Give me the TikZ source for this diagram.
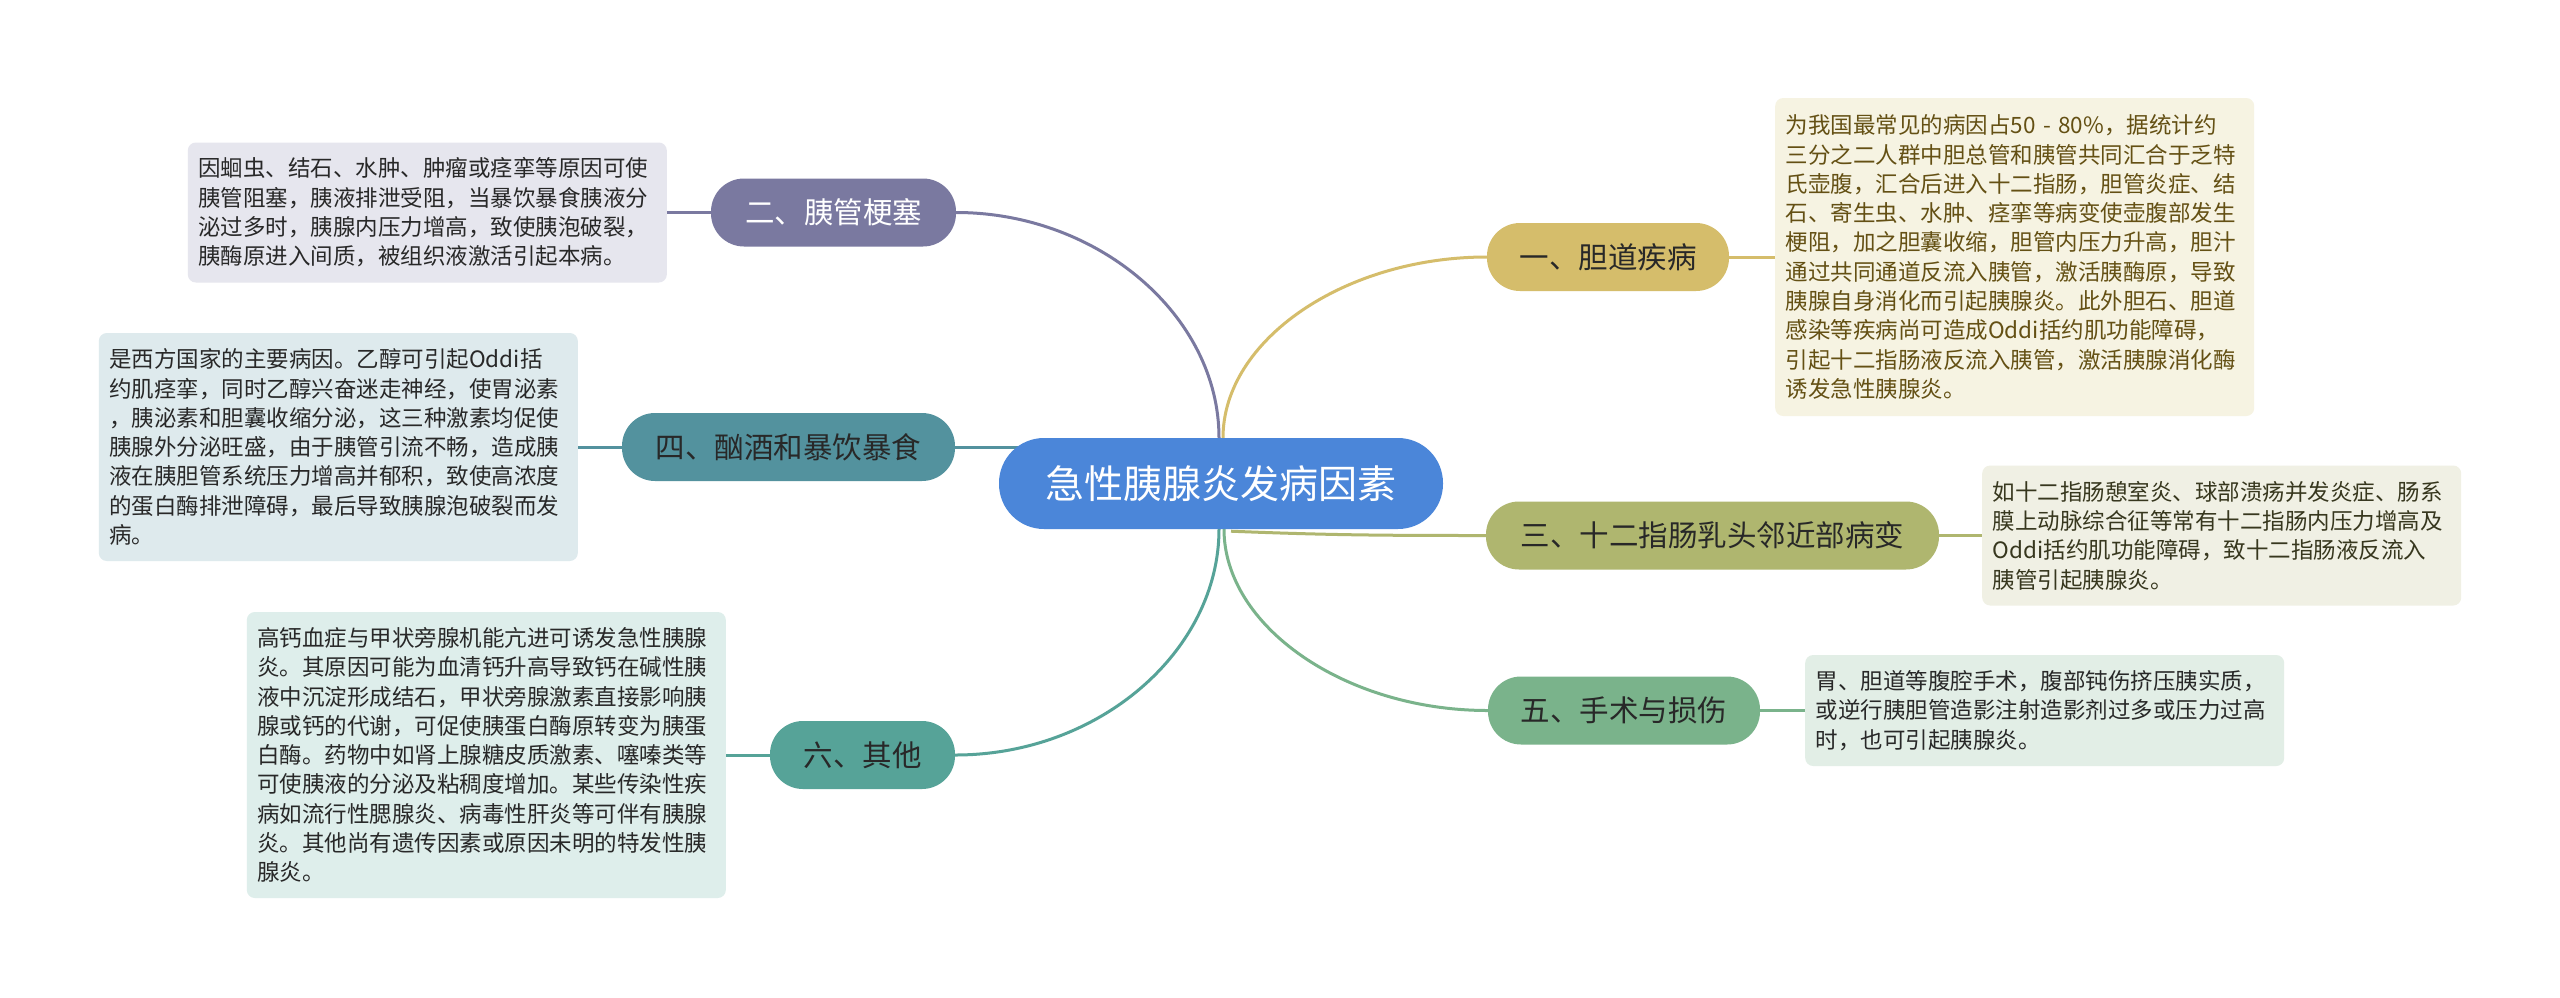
\documentclass[tikz,border=0pt]{standalone}
\usepackage{fontspec}
\setmainfont{Noto Sans CJK SC}
\usetikzlibrary{backgrounds}
\definecolor{c0}{RGB}{75,134,217}
\definecolor{c1}{RGB}{213,189,107}
\definecolor{c2}{RGB}{122,121,160}
\definecolor{c3}{RGB}{175,182,111}
\definecolor{c4}{RGB}{83,146,158}
\definecolor{c5}{RGB}{122,179,139}
\definecolor{c6}{RGB}{86,163,152}
\definecolor{b1}{RGB}{246,243,226}
\definecolor{b2}{RGB}{230,230,238}
\definecolor{b3}{RGB}{240,240,228}
\definecolor{b4}{RGB}{222,234,237}
\definecolor{b5}{RGB}{226,238,230}
\definecolor{b6}{RGB}{222,238,235}
\definecolor{t1}{RGB}{100,80,20}
\definecolor{t3}{RGB}{55,55,30}
\definecolor{tdark}{RGB}{40,40,40}
\begin{document}
\begin{tikzpicture}[x=1pt,y=-1pt,
  pill/.style={rounded corners=33pt, minimum height=68pt, inner sep=0pt, text=tdark,
    font=\fontsize{29.5}{35}\selectfont},
  detail/.style={rounded corners=8pt, text width=458pt, align=left, inner xsep=10.5pt,
    inner ysep=0pt, text=tdark, font=\fontsize{22.5}{29.3}\selectfont},
  conn/.style={line width=3pt}]
\useasboundingbox (0,0) rectangle (2560,997);

\node[pill, fill=c0, text=white, minimum width=444pt, minimum height=91pt, rounded corners=45pt,
  font=\fontsize{39}{45}\selectfont] (c) at (1221,483.5) {急性胰腺炎发病因素};

\node[pill, fill=c1, minimum width=242pt] (n1) at (1608,257) {一、胆道疾病};
\node[pill, fill=c2, text=white, minimum width=245pt] (n2) at (833.5,212.5) {二、胰管梗塞};
\node[pill, fill=c3, minimum width=453pt] (n3) at (1712.5,535.5) {三、十二指肠乳头邻近部病变};
\node[pill, fill=c4, minimum width=333pt] (n4) at (788.5,447) {四、酗酒和暴饮暴食};
\node[pill, fill=c5, minimum width=272pt] (n5) at (1624,710.5) {五、手术与损伤};
\node[pill, fill=c6, minimum width=185pt] (n6) at (862.5,755) {六、其他};

\node[detail, fill=b1, text=t1, minimum height=318pt, anchor=west] (b1) at (1775,257) {为我国最常见的病因占50 - 80\%，据统计约\\
三分之二人群中胆总管和胰管共同汇合于乏特\\
氏壶腹，汇合后进入十二指肠，胆管炎症、结\\
石、寄生虫、水肿、痉挛等病变使壶腹部发生\\
梗阻，加之胆囊收缩，胆管内压力升高，胆汁\\
通过共同通道反流入胰管，激活胰酶原，导致\\
胰腺自身消化而引起胰腺炎。此外胆石、胆道\\
感染等疾病尚可造成Oddi括约肌功能障碍，\\
引起十二指肠液反流入胰管，激活胰腺消化酶\\
诱发急性胰腺炎。};

\node[detail, fill=b2, minimum height=140pt, anchor=east] (b2) at (667,212.5) {因蛔虫、结石、水肿、肿瘤或痉挛等原因可使\\
胰管阻塞，胰液排泄受阻，当暴饮暴食胰液分\\
泌过多时，胰腺内压力增高，致使胰泡破裂，\\
胰酶原进入间质，被组织液激活引起本病。};

\node[detail, fill=b3, text=t3, minimum height=140pt, anchor=west] (b3) at (1982,535.5) {如十二指肠憩室炎、球部溃疡并发炎症、肠系\\
膜上动脉综合征等常有十二指肠内压力增高及\\
Oddi括约肌功能障碍，致十二指肠液反流入\\
胰管引起胰腺炎。};

\node[detail, fill=b4, minimum height=228pt, anchor=east] (b4) at (578,447) {是西方国家的主要病因。乙醇可引起Oddi括\\
约肌痉挛，同时乙醇兴奋迷走神经，使胃泌素\\
，胰泌素和胆囊收缩分泌，这三种激素均促使\\
胰腺外分泌旺盛，由于胰管引流不畅，造成胰\\
液在胰胆管系统压力增高并郁积，致使高浓度\\
的蛋白酶排泄障碍，最后导致胰腺泡破裂而发\\
病。};

\node[detail, fill=b5, minimum height=111pt, anchor=west] (b5) at (1805,710.5) {胃、胆道等腹腔手术，腹部钝伤挤压胰实质，\\
或逆行胰胆管造影注射造影剂过多或压力过高\\
时，也可引起胰腺炎。};

\node[detail, fill=b6, minimum height=286pt, anchor=east] (b6) at (726,755) {高钙血症与甲状旁腺机能亢进可诱发急性胰腺\\
炎。其原因可能为血清钙升高导致钙在碱性胰\\
液中沉淀形成结石，甲状旁腺激素直接影响胰\\
腺或钙的代谢，可促使胰蛋白酶原转变为胰蛋\\
白酶。药物中如肾上腺糖皮质激素、噻嗪类等\\
可使胰液的分泌及粘稠度增加。某些传染性疾\\
病如流行性腮腺炎、病毒性肝炎等可伴有胰腺\\
炎。其他尚有遗传因素或原因未明的特发性胰\\
腺炎。};

\draw[conn, c1] (n1.east) -- (b1.west);
\draw[conn, c2] (b2.east) -- (n2.west);
\draw[conn, c3] (n3.east) -- (b3.west);
\draw[conn, c4] (b4.east) -- (n4.west);
\draw[conn, c5] (n5.east) -- (b5.west);
\draw[conn, c6] (b6.east) -- (n6.west);

\begin{pgfonlayer}{background}
\fill[white] (0,0) rectangle (2560,997);
\draw[conn, c1] ([xshift=2pt]c.north) .. controls +(0,-98) and +(-142,0) .. (n1.west);
\draw[conn, c2] ([xshift=-2pt]c.north) .. controls +(0,-122) and +(142,0) .. (n2.east);
\draw[conn, c6] ([xshift=-2pt]c.south) .. controls +(0,121) and +(145,0) .. (n6.east);
\draw[conn, c5] ([xshift=3pt]c.south) .. controls +(0,97) and +(-143,0) .. (n5.west);
\draw[conn, c3] ([xshift=10pt, yshift=-2pt]c.south) .. controls +(100,4) and +(-100,0) .. (n3.west);
\draw[conn, c4] (n4.east) -- (n4.east -| c.center);
\end{pgfonlayer}
\end{tikzpicture}
\end{document}
